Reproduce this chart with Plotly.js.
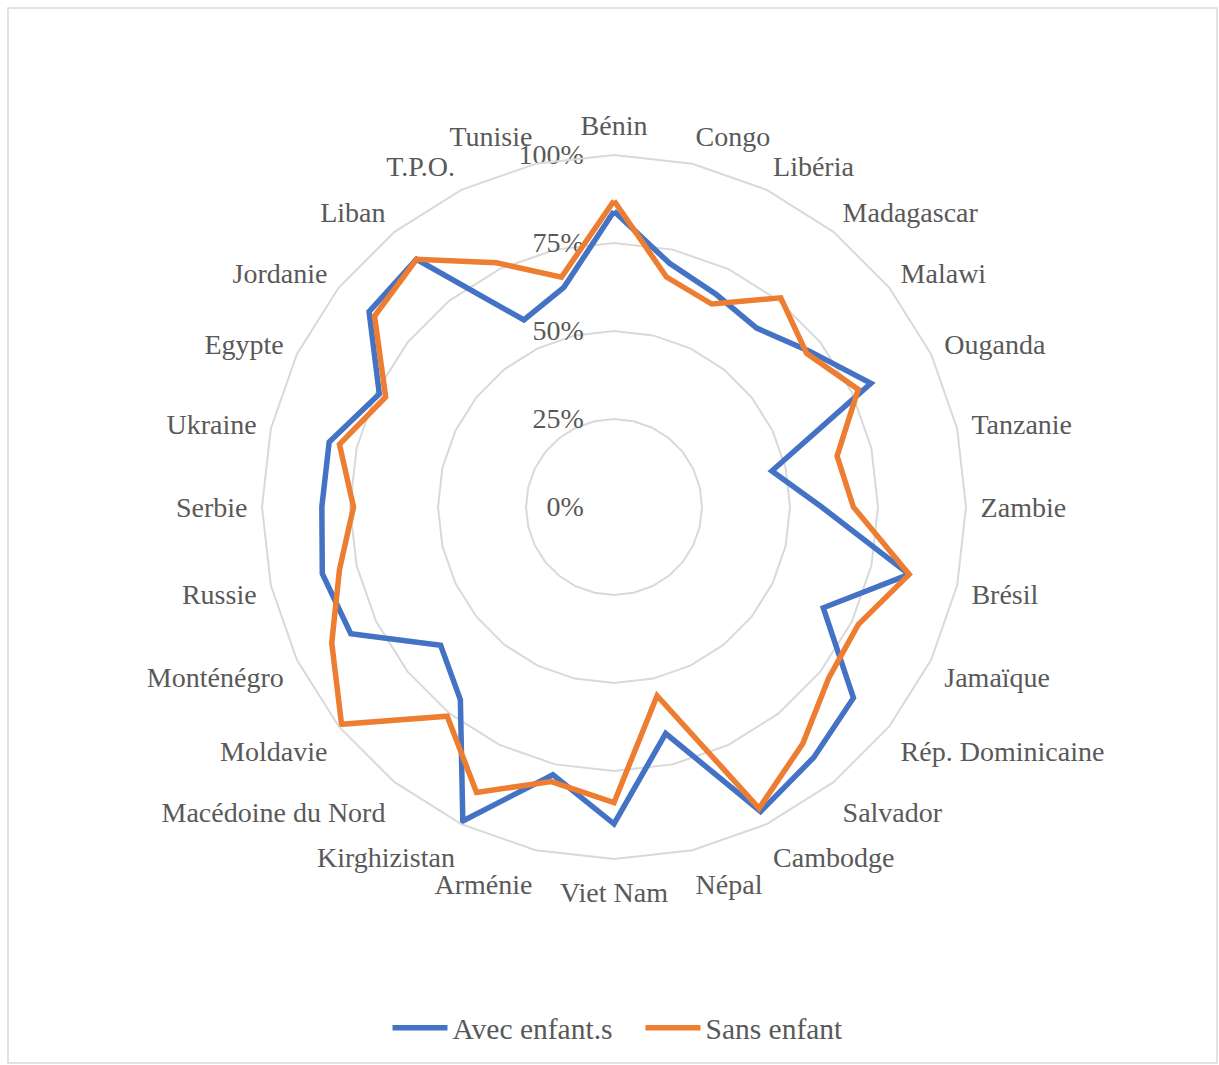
<!DOCTYPE html>
<html>
<head>
<meta charset="utf-8">
<script src="https://cdn.plot.ly/plotly-3.0.1.min.js"></script>
<style>html,body{margin:0;padding:0;background:#fff;}#chart{width:1219px;height:1065px;}</style>
</head>
<body>
<div id="chart"></div>
<script>
const categories = ["Bénin","Congo","Libéria","Madagascar","Malawi","Ouganda","Tanzanie","Zambie","Brésil","Jamaïque","Rép. Dominicaine","Salvador","Cambodge","Népal","Viet Nam","Arménie","Kirghizistan","Macédoine du Nord","Moldavie","Monténégro","Russie","Serbie","Ukraine","Egypte","Jordanie","Liban","T.P.O.","Tunisie"];
const avecEnfants = [0.84,0.71,0.67,0.65,0.71,0.81,0.46,0.59,0.86,0.66,0.87,0.91,0.96,0.66,0.90,0.78,0.99,0.70,0.63,0.83,0.85,0.83,0.83,0.74,0.89,0.90,0.59,0.64];
const sansEnfant = [0.87,0.67,0.64,0.76,0.70,0.77,0.65,0.68,0.86,0.77,0.78,0.86,0.95,0.55,0.84,0.80,0.90,0.76,0.99,0.89,0.80,0.74,0.80,0.72,0.87,0.90,0.77,0.67];
const seriesNames = ["Avec enfant.s","Sans enfant"];
const radialTicks = [0,0.25,0.5,0.75,1];
const radialTickText = ["0%","25%","50%","75%","100%"];

const close = a => a.concat([a[0]]);
const W = 1219, H = 1065;
const cx = 614, cy = 507, R = 352;

const traces = [
  {type:'scatterpolar', mode:'lines', name:seriesNames[0], r:close(avecEnfants), theta:close(categories),
   line:{color:'#4472C4', width:5.5, shape:'linear'}},
  {type:'scatterpolar', mode:'lines', name:seriesNames[1], r:close(sansEnfant), theta:close(categories),
   line:{color:'#ED7D31', width:5.5, shape:'linear'}}
];

const fontFam = '"Times New Roman", Times, "Liberation Serif", "DejaVu Serif", serif';
const layout = {
  width:W, height:H,
  margin:{l:0,r:0,t:0,b:0},
  paper_bgcolor:'#fff',
  font:{family:fontFam, size:28, color:'#595959'},
  showlegend:true,
  legend:{orientation:'h', x:0.5 + 31/W, xanchor:'center', y:(H-1028)/H, yanchor:'middle',
          font:{family:fontFam, size:29.5, color:'#595959'}, itemwidth:55, entrywidth:183, entrywidthmode:'pixels'},
  polar:{
    domain:{x:[(cx-R)/W,(cx+R)/W], y:[(H-cy-R)/H,(H-cy+R)/H]},
    gridshape:'linear',
    bgcolor:'#fff',
    angularaxis:{type:'category', categoryarray:categories, direction:'clockwise', rotation:90,
      showgrid:false, showline:true, linecolor:'#d9d9d9', linewidth:2,
      ticks:'outside', ticklen:8, tickcolor:'rgba(0,0,0,0)',
      tickfont:{family:fontFam, size:28, color:'#595959'}},
    radialaxis:{range:[0,1], angle:90, tickangle:90, tickvals:radialTicks, ticktext:radialTickText,
      showline:false, showgrid:true, gridcolor:'#d9d9d9', gridwidth:2,
      ticks:'outside', ticklen:20, tickcolor:'rgba(0,0,0,0)', side:'counterclockwise',
      tickfont:{family:fontFam, size:28, color:'#595959'}, layer:'below traces'}
  },
  shapes:[{type:'rect', xref:'paper', yref:'paper', x0:8/W, x1:1217/W, y0:(H-1063)/H, y1:(H-8)/H,
           line:{color:'#d9d9d9', width:1.5}, fillcolor:'rgba(0,0,0,0)'}]
};

Plotly.newPlot('chart', traces, layout, {displayModeBar:false, staticPlot:true});
</script>
</body>
</html>
